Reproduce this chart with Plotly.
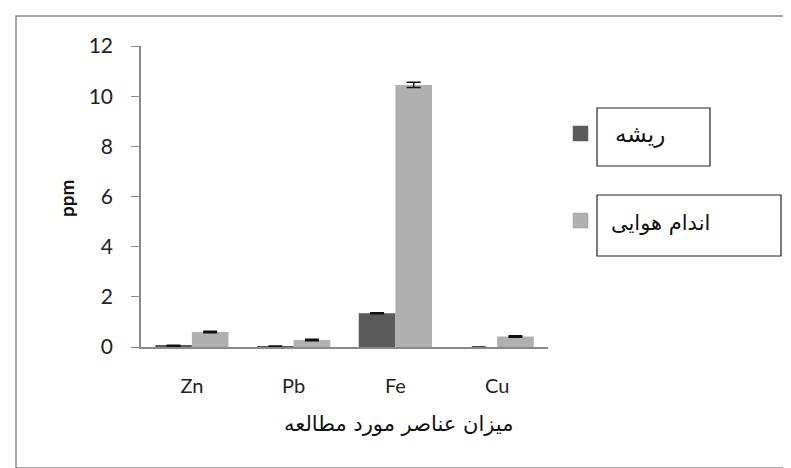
import plotly.graph_objects as go

categories = ["Zn", "Pb", "Fe", "Cu"]
root_values = [0.05, 0.02, 1.35, 0.0]
root_errors = [0.02, 0.02, 0.02, 0.0]
aerial_values = [0.60, 0.28, 10.45, 0.42]
aerial_errors = [0.03, 0.03, 0.10, 0.03]
series_names = ["ریشه", "اندام هوایی"]
y_ticks = [0, 2, 4, 6, 8, 10, 12]

W, H = 791, 468
L, R, T, B = 133, 540, 38, 339

def px(X):
    return (X - L) / (R - L)

def py(Y):
    return (B - Y) / (B - T)

dark = "#5a5a5a"
light = "#b0b0b0"
fa_font = "DejaVu Sans"
lat_font = "Lato"

fig = go.Figure()
fig.add_bar(x=categories, y=root_values, name=series_names[0],
            marker=dict(color=dark, line=dict(width=0)),
            error_y=dict(type="data", array=root_errors, color="#111",
                         thickness=1.5, width=7))
fig.add_bar(x=categories, y=aerial_values, name=series_names[1],
            marker=dict(color=light, line=dict(width=0)),
            error_y=dict(type="data", array=aerial_errors, color="#111",
                         thickness=1.5, width=7))

shapes = [
    # outer chart border
    dict(type="rect", xref="paper", yref="paper",
         x0=px(8), x1=px(783), y0=py(460), y1=py(8),
         line=dict(color="#8a8a8a", width=1.5), layer="below"),
    # legend item 1
    dict(type="rect", xref="paper", yref="paper",
         x0=px(565), x1=px(580), y0=py(133), y1=py(118),
         fillcolor=dark, line=dict(color="#666", width=0.5)),
    dict(type="rect", xref="paper", yref="paper",
         x0=px(589), x1=px(702), y0=py(158), y1=py(100),
         line=dict(color="#222", width=1.2)),
    # legend item 2
    dict(type="rect", xref="paper", yref="paper",
         x0=px(565), x1=px(580), y0=py(220), y1=py(205),
         fillcolor=light, line=dict(color="#999", width=0.5)),
    dict(type="rect", xref="paper", yref="paper",
         x0=px(589), x1=px(773), y0=py(248), y1=py(187),
         line=dict(color="#222", width=1.2)),
]

annotations = [
    dict(text=series_names[0], xref="paper", yref="paper",
         x=px(632), y=py(126), showarrow=False,
         xanchor="center", yanchor="middle",
         font=dict(family=fa_font, size=23, color="#111")),
    dict(text=series_names[1], xref="paper", yref="paper",
         x=px(652), y=py(215), showarrow=False,
         xanchor="center", yanchor="middle",
         font=dict(family=fa_font, size=21, color="#111")),
    dict(text="<b>ppm</b>", xref="paper", yref="paper",
         x=px(58), y=py(190), showarrow=False, textangle=-90,
         xanchor="center", yanchor="middle",
         font=dict(family=lat_font, size=19, color="#111")),
    dict(text="میزان عناصر مورد مطالعه", xref="paper", yref="paper",
         x=px(390), y=py(416), showarrow=False,
         xanchor="center", yanchor="middle",
         font=dict(family=fa_font, size=21, color="#111")),
]

fig.update_layout(
    width=W, height=H,
    margin=dict(l=L, r=W - R, t=T, b=H - B, pad=0),
    paper_bgcolor="white", plot_bgcolor="white",
    barmode="group", bargap=0.28, bargroupgap=0,
    showlegend=False,
    shapes=shapes, annotations=annotations,
    font=dict(family=lat_font, size=19, color="#222"),
    xaxis=dict(showline=True, linecolor="#8a8a8a", linewidth=1.5,
               ticks="", showgrid=False, zeroline=False,
               tickfont=dict(family=lat_font, size=20, color="#222"),
               ticklabelstandoff=20),
    yaxis=dict(range=[0, 12], tickvals=y_ticks, showline=True,
               linecolor="#8a8a8a", linewidth=1.5, ticks="outside",
               ticklen=8, tickcolor="#8a8a8a", showgrid=False,
               zeroline=False, ticklabelstandoff=14,
               tickfont=dict(family=lat_font, size=21, color="#222")),
)

fig.write_html("out.html")
